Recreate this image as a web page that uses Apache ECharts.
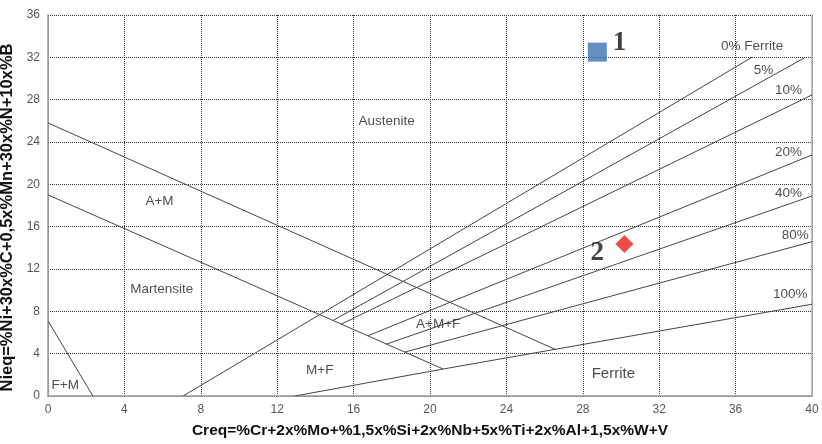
<!DOCTYPE html>
<html>
<head>
<meta charset="utf-8">
<script src="https://cdn.jsdelivr.net/npm/echarts@6/dist/echarts.min.js"></script>
<style>
    html, body { margin: 0; padding: 0; background: #fff; }
    #chart-box { width: 822px; height: 444px; }
</style>
</head>
<body>
<div id="chart-box"></div>
<script>
    // boundary lines of the diagram, [Creq, Nieq]
    var lineAusMart = [[0, 25.8], [26.55, 4.41]];
    var lineMartBound = [[0, 19.0], [20.69, 2.55]];
    var lineFM = [[0, 7.1], [2.35, 0]];
    var ferrite0 = [[7.07, 0], [36.85, 32.0]];
    var ferrite5 = [[14.93, 7.15], [39.65, 32.0]];
    var ferrite10 = [[15.37, 6.8], [40, 28.45]];
    var ferrite20 = [[16.76, 5.7], [40, 22.78]];
    var ferrite40 = [[17.72, 4.9], [40, 18.9]];
    var ferrite80 = [[18.68, 4.15], [40, 14.58]];
    var ferrite100 = [[12.92, 0], [20.69, 2.55], [26.55, 4.41], [40, 8.67]];

    // the two measured points
    var point1 = [[28.76, 32.49]];
    var point2 = [[30.18, 14.37]];

    // text inside the plot
    var regionLabels = [
        ['Austenite', 17.73, 25.93],
        ['A+M', 5.84, 18.37],
        ['Martensite', 5.96, 10.11],
        ['F+M', 0.9, 0.97],
        ['M+F', 14.23, 2.46],
        ['A+M+F', 20.43, 6.78],
        ['0% Ferrite', 36.86, 33.0],
        ['5%', 37.46, 30.75],
        ['10%', 38.77, 28.86],
        ['20%', 38.77, 23.0],
        ['40%', 38.77, 19.2],
        ['80%', 39.12, 15.2],
        ['100%', 38.86, 9.64]
    ];
    var ferriteLabel = [['Ferrite', 29.6, 2.05]];
    var pointLabels = [['1', 29.92, 33.39], ['2', 28.76, 13.49]];

    var lineColor = '#444';

    function boundary(data) {
        return {
            type: 'line',
            data: data,
            showSymbol: false,
            symbol: 'none',
            silent: true,
            lineStyle: { color: lineColor, width: 1 },
            z: 3
        };
    }

    function textSeries(list, size, font, weight, color) {
        return {
            type: 'scatter',
            symbolSize: 0,
            silent: true,
            data: list.map(function (t) {
                return { value: [t[1], t[2]], name: t[0] };
            }),
            label: {
                show: true,
                position: 'inside',
                formatter: '{b}',
                fontSize: size,
                fontFamily: font,
                fontWeight: weight,
                color: color
            },
            z: 5
        };
    }

    var myChart = echarts.init(document.getElementById('chart-box'));

    var option = {
        animation: false,
        grid: { left: 48, right: 10, top: 15, bottom: 48, containLabel: false, outerBoundsMode: 'none' },
        xAxis: {
            type: 'value',
            min: 0,
            max: 40,
            interval: 4,
            name: 'Creq=%Cr+2x%Mo+%1,5x%Si+2x%Nb+5x%Ti+2x%Al+1,5x%W+V',
            nameLocation: 'middle',
            nameGap: 27,
            nameTextStyle: { fontFamily: 'Liberation Sans', fontWeight: 'bold', fontSize: 15.5, color: '#111' },
            axisLine: { lineStyle: { color: '#999', width: 1.5 } },
            axisTick: { show: false },
            axisLabel: { fontFamily: 'Liberation Sans', fontSize: 12, color: '#555', margin: 8 },
            splitLine: { show: true, lineStyle: { color: '#333', type: 'dotted', width: 1 } }
        },
        yAxis: [{
            type: 'value',
            min: 0,
            max: 36,
            interval: 4,
            name: 'Nieq=%Ni+30x%C+0,5x%Mn+30x%N+10x%B',
            nameLocation: 'middle',
            nameGap: 30,
            nameTextStyle: {
                fontFamily: 'Liberation Sans', fontWeight: 'bold', fontSize: 16.5, color: '#111',
                padding: [0, 24, 0, 0]
            },
            axisLine: { show: true, lineStyle: { color: '#999', width: 1.5 } },
            axisTick: { show: false },
            axisLabel: { fontFamily: 'Liberation Sans', fontSize: 12, color: '#555', margin: 8 },
            splitLine: { show: true, lineStyle: { color: '#333', type: 'dotted', width: 1 } }
        }, {
            type: 'value',
            position: 'right',
            min: 0,
            max: 36,
            interval: 4,
            axisLine: { show: true, lineStyle: { color: '#aaa', width: 1.5 } },
            axisTick: { show: false },
            axisLabel: { show: false },
            splitLine: { show: false }
        }],
        series: [
            boundary(lineAusMart),
            boundary(lineMartBound),
            boundary(lineFM),
            boundary(ferrite0),
            boundary(ferrite5),
            boundary(ferrite10),
            boundary(ferrite20),
            boundary(ferrite40),
            boundary(ferrite80),
            boundary(ferrite100),
            {
                type: 'scatter',
                data: point1,
                symbol: 'rect',
                symbolSize: 19,
                itemStyle: { color: '#3d72b8' },
                z: 6
            },
            {
                type: 'scatter',
                data: point2,
                symbol: 'diamond',
                symbolSize: [18, 18],
                itemStyle: { color: '#e8211c' },
                z: 6
            },
            textSeries(regionLabels, 13.5, 'Liberation Sans', 'normal', '#222'),
            textSeries(ferriteLabel, 15, 'Liberation Sans', 'normal', '#222'),
            textSeries(pointLabels, 27, 'Liberation Serif', 'bold', '#111')
        ]
    };

    myChart.setOption(option, true);
</script>
</body>
</html>
